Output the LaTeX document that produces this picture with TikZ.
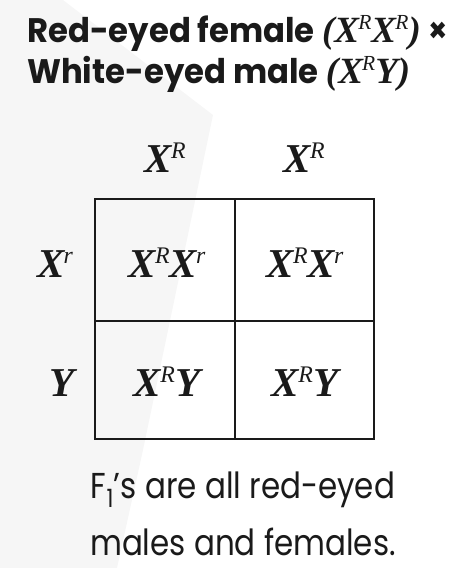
\documentclass[tikz,border=0pt]{standalone}
\usepackage{fontspec}
\setmainfont{Poppins}
\newfontfamily\genfont{Liberation Serif}
\newcommand{\gsup}[1]{\kern-0.02em\raisebox{0.33em}{\scalebox{0.58}{\mdseries #1}}}
\newcommand{\gen}[1]{{\genfont\bfseries\itshape #1}}
\newcommand{\sq}[2]{\scalebox{#1}[1]{#2}}
\definecolor{bgshade}{HTML}{F6F6F6}
\definecolor{ink}{HTML}{1A1A1A}
\begin{document}
\begin{tikzpicture}[x=1pt,y=-1pt,
  cellline/.style={draw=ink,line width=2pt},
  genlabel/.style={font=\fontsize{41}{42}\selectfont,text=ink,inner sep=0pt,anchor=base},
  titletext/.style={font=\fontsize{34}{38}\selectfont\bfseries,text=ink,inner sep=0pt,anchor=base west},
  bodytext/.style={font=\fontsize{36}{40}\selectfont,text=ink,inner sep=0pt,anchor=base}]
\useasboundingbox (0,0) rectangle (460,568);
\fill[bgshade] (0,0) -- (63,0) -- (213,115) -- (143,450) -- (117,568) -- (0,568) -- cycle;
% title
\node[titletext] (t1) at (27,42) {\sq{0.95}{Red-eyed female} {\fontsize{37}{38}\selectfont\gen{(X\gsup{R}X\gsup{R})}} \sq{0.9}{×}};
\node[titletext] (t2) at (27,83) {\sq{0.95}{White-eyed male} {\fontsize{37}{38}\selectfont\gen{(X\gsup{R}Y)}}};
% grid
\draw[cellline] (95,199) rectangle (374,439);
\draw[cellline] (235,199) -- (235,439);
\draw[cellline] (95,321) -- (374,321);
% headers
\node[genlabel] (h1) at (165,172) {\gen{X\gsup{R}}};
\node[genlabel] (h2) at (304,172) {\gen{X\gsup{R}}};
\node[genlabel] (r1) at (55,277) {\gen{X\gsup{r}}};
\node[genlabel] (r2) at (62,396) {\gen{Y}};
% cells
\node[genlabel] (c11) at (167,277) {\gen{X\gsup{R}X\gsup{r}}};
\node[genlabel] (c12) at (305,277) {\gen{X\gsup{R}X\gsup{r}}};
\node[genlabel] (c21) at (167,396) {\gen{X\gsup{R}Y}};
\node[genlabel] (c22) at (305,396) {\gen{X\gsup{R}Y}};
% bottom text
\node[bodytext] (b1) at (243,498) {\sq{0.86}{F\textsubscript{1}’s are all red-eyed}};
\node[bodytext] (b2) at (243,555) {\sq{0.86}{males and females.}};
\end{tikzpicture}
\end{document}
